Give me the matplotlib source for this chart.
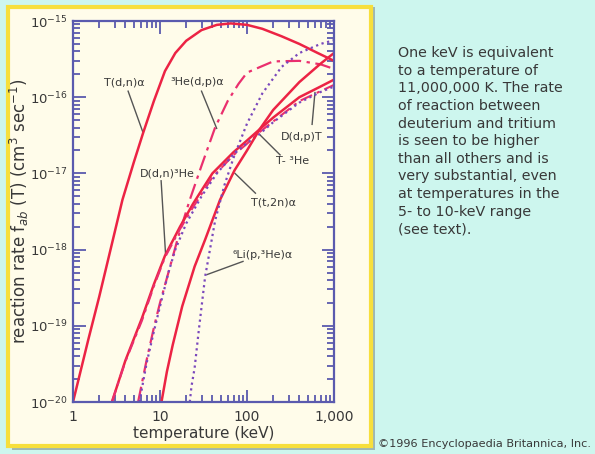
import matplotlib
matplotlib.use("Agg")
import matplotlib.pyplot as plt
from matplotlib.patches import Rectangle
from matplotlib.ticker import LogLocator, FixedLocator, FixedFormatter, NullFormatter

# ---- data (temperature keV, reaction rate cm^3/s) ----
dt_T = [1, 1.5, 2, 2.7, 3.7, 5, 6.4, 8.5, 11.4, 15, 20, 30, 45, 65, 100, 150, 250, 400, 650, 1000]
dt_r = [1e-20, 6.6e-20, 2.4e-19, 1.0e-18, 4.5e-18, 1.4e-17, 3.4e-17, 8.9e-17, 2.2e-16, 3.8e-16,
        5.5e-16, 7.6e-16, 8.9e-16, 9.3e-16, 8.9e-16, 7.9e-16, 6.3e-16, 5.0e-16, 3.8e-16, 3.0e-16]

dhe3_T = [5.6, 7, 8.6, 10, 12.5, 16, 22, 30, 43, 60, 80, 100, 120, 200, 400, 700, 1000]
dhe3_r = [1e-20, 3.5e-20, 1.0e-19, 2.0e-19, 5.0e-19, 1.4e-18, 4.5e-18, 1.26e-17, 4.0e-17, 8.9e-17,
          1.5e-16, 2.1e-16, 2.3e-16, 2.95e-16, 3.0e-16, 2.7e-16, 2.35e-16]

ddn_T = [2.8, 4, 6.2, 8.5, 11.4, 17, 24, 40, 70, 100, 140, 200, 400, 700, 1000]
ddn_r = [1e-20, 3.5e-20, 1.26e-19, 3.5e-19, 8.3e-19, 2.0e-18, 4.0e-18, 1.0e-17, 1.9e-17, 2.7e-17,
         3.8e-17, 5.4e-17, 1.0e-16, 1.38e-16, 1.7e-16]

ddp_T = [2.8, 4, 6.2, 8.5, 11.4, 17, 24, 40, 70, 100, 140, 200, 400, 700, 1000]
ddp_r = [1e-20, 3.4e-20, 1.17e-19, 3.3e-19, 7.9e-19, 1.86e-18, 3.6e-18, 8.9e-18, 1.74e-17, 2.45e-17,
         3.5e-17, 4.8e-17, 8.9e-17, 1.2e-16, 1.45e-16]

the3_T = [5.8, 7, 8.6, 10, 12.5, 15, 20, 30, 45, 70, 100, 140, 200, 400, 700, 1000]
the3_r = [1e-20, 3.2e-20, 8.9e-20, 1.8e-19, 5.0e-19, 1.0e-18, 2.2e-18, 5.0e-18, 1.0e-17, 1.78e-17,
          2.5e-17, 3.3e-17, 4.7e-17, 8.5e-17, 1.17e-16, 1.38e-16]

tt_T = [10.4, 12, 14, 18, 25, 33, 49, 72, 100, 140, 200, 400, 700, 1000]
tt_r = [1e-20, 2.5e-20, 5.6e-20, 1.8e-19, 6.0e-19, 1.35e-18, 4.5e-18, 1.1e-17, 2.0e-17,
        3.8e-17, 6.8e-17, 1.58e-16, 2.75e-16, 3.8e-16]

li6_T = [22, 23, 25, 28, 33, 43, 55, 70, 100, 150, 250, 400, 700, 1000]
li6_r = [1e-20, 1.6e-20, 2.8e-20, 9.0e-20, 4.4e-19, 2.4e-18, 7.0e-18, 1.6e-17, 4.5e-17,
         1.12e-16, 2.5e-16, 3.8e-16, 5.0e-16, 5.6e-16]

x_ticks = [1, 10, 100, 1000]
x_tick_labels = ["1", "10", "100", "1,000"]
y_ticks = [1e-20, 1e-19, 1e-18, 1e-17, 1e-16, 1e-15]

labels = ["T(d,n)α", "³He(d,p)α", "D(d,n)³He", "D(d,p)T", "T- ³He", "T(t,2n)α", "⁶Li(p,³He)α"]
label_pos = [(3.9, 1.55e-16), (27, 1.6e-16), (12.0, 1.0e-17), (430, 3.0e-17), (330, 1.45e-17),
             (200, 4.2e-18), (150, 8.5e-19)]
label_tip = [(6.4, 3.4e-17), (44.8, 3.9e-17), (11.6, 8.5e-19), (604, 1.15e-16), (141, 3.2e-17),
             (72.8, 1.0e-17), (34.7, 4.7e-19)]
label_tail = [(4.3, 1.2e-16), (30, 1.2e-16), (10.3, 8.0e-18), (560, 4.4e-17), (240, 1.75e-17),
              (125, 5.5e-18), (90, 7.0e-19)]

# ---- styling ----
BG = "#cdf6ee"
PANEL = "#fffcea"
YELLOW = "#f7df3c"
NAVY = "#5a5aae"
RED = "#ec2344"
PINK = "#ea2f6e"
PURPLE = "#7a48bc"
TXT = "#383838"

fig = plt.figure(figsize=(5.95, 4.54), dpi=100, facecolor=BG)
W, H = 595.0, 454.0

def fx(px):
    return px / W

def fy(py):
    return 1 - py / H

# shadow and panel
fig.patches.append(Rectangle((fx(12), fy(450)), fx(363), 443 / H, transform=fig.transFigure,
                             facecolor="#9fb7b2", edgecolor="none", zorder=0))
fig.patches.append(Rectangle((fx(8), fy(446)), fx(363), 439 / H, transform=fig.transFigure,
                             facecolor=PANEL, edgecolor=YELLOW, linewidth=3, zorder=1))

ax = fig.add_axes([fx(73), fy(402), fx(261), 381 / H])
ax.set_facecolor(PANEL)
ax.set_zorder(2)
ax.set_xscale("log")
ax.set_yscale("log")
ax.set_xlim(1, 1000)
ax.set_ylim(1e-20, 1e-15)

lw = 1.8
ax.plot(dt_T, dt_r, color=RED, lw=lw)
ax.plot(dhe3_T, dhe3_r, color=PINK, lw=1.6, linestyle=(0, (7, 2.5, 1.5, 2.5)))
ax.plot(ddn_T, ddn_r, color=RED, lw=lw)
ax.plot(ddp_T, ddp_r, color=PINK, lw=1.5, linestyle=(0, (6, 2.5, 1.5, 2.5)))
ax.plot(the3_T, the3_r, color=PURPLE, lw=1.6, linestyle=(0, (1, 1.6)))
ax.plot(tt_T, tt_r, color=RED, lw=lw)
ax.plot(li6_T, li6_r, color=PURPLE, lw=1.6, linestyle=(0, (1, 1.6)))

for lab, pos, tip, tail in zip(labels, label_pos, label_tip, label_tail):
    ax.plot([tail[0], tip[0]], [tail[1], tip[1]], color="#555555", lw=1.0, zorder=1)
    ax.text(pos[0], pos[1], lab, ha="center", va="center", fontsize=8, color=TXT,
            family=["DejaVu Sans"])

for s in ax.spines.values():
    s.set_color(NAVY)
    s.set_linewidth(1.6)

ax.xaxis.set_major_locator(FixedLocator(x_ticks))
ax.xaxis.set_major_formatter(FixedFormatter(x_tick_labels))
ax.xaxis.set_minor_locator(LogLocator(base=10, subs=range(2, 10), numticks=20))
ax.xaxis.set_minor_formatter(NullFormatter())
ax.yaxis.set_major_locator(FixedLocator(y_ticks))
ax.yaxis.set_minor_locator(LogLocator(base=10, subs=range(2, 10), numticks=20))
ax.yaxis.set_minor_formatter(NullFormatter())

ax.tick_params(which="both", direction="in", top=True, right=True, color=NAVY, width=1.3,
               labelcolor=TXT, labelsize=9.5)
ax.tick_params(which="major", length=9)
ax.tick_params(which="minor", length=5)
ax.tick_params(axis="x", pad=6, labelsize=10)
ax.tick_params(axis="y", pad=4)

ax.set_xlabel("temperature (keV)", fontsize=11, color=TXT, labelpad=1)
ax.set_ylabel("reaction rate f$_{ab}$ (T) (cm$^3$ sec$^{-1}$)", fontsize=12, color=TXT)
ax.yaxis.set_label_coords((31 - 73) / 261.0, 0.5)

note = ("One keV is equivalent\nto a temperature of\n11,000,000 K. The rate\n"
        "of reaction between\ndeuterium and tritium\nis seen to be higher\n"
        "than all others and is\nvery substantial, even\nat temperatures in the\n"
        "5- to 10-keV range\n(see text).")
fig.text(fx(398), fy(46), note, ha="left", va="top", fontsize=10.3, color=TXT, linespacing=1.33)
fig.text(fx(378), fy(444), "©1996 Encyclopaedia Britannica, Inc.", ha="left", va="center",
         fontsize=8.1, color=TXT)

fig.savefig("out.png", dpi=100, facecolor=BG)
